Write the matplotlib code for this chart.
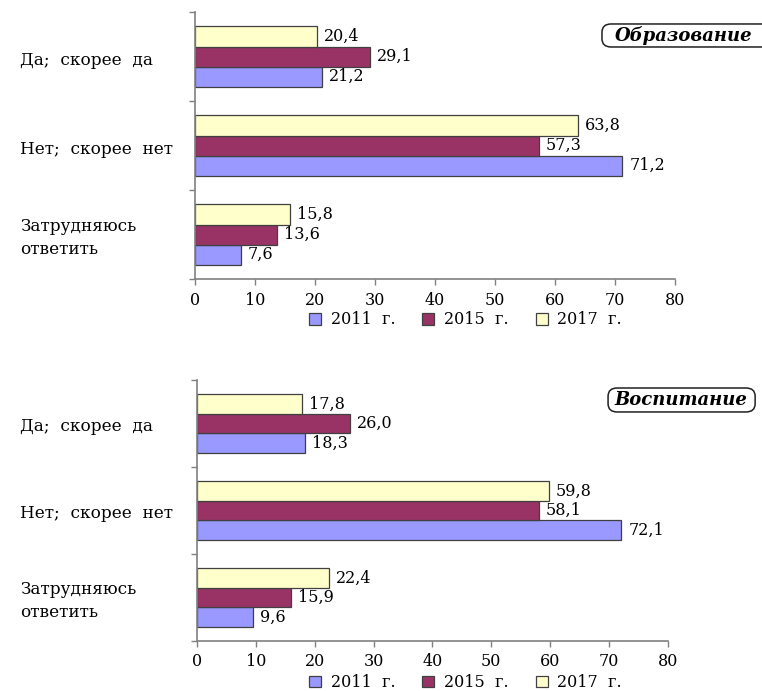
import matplotlib.pyplot as plt
import matplotlib.transforms as mtransforms
from matplotlib.patches import FancyBboxPatch
import numpy as np

# data
categories = ["Да;  скорее  да", "Нет;  скорее  нет", "Затрудняюсь\nответить"]
years = ["2011  г.", "2015  г.", "2017  г."]
colors = ["#9999ff", "#993366", "#ffffcc"]

edu_2011 = [21.2, 71.2, 7.6]
edu_2015 = [29.1, 57.3, 13.6]
edu_2017 = [20.4, 63.8, 15.8]

vos_2011 = [18.3, 72.1, 9.6]
vos_2015 = [26.0, 58.1, 15.9]
vos_2017 = [17.8, 59.8, 22.4]

# title, series, axes rect, legend y, title box (x0, y0, w, h), title text (x, y)
panels = [
    ("Образование", [edu_2011, edu_2015, edu_2017],
     [0.2559, 0.5962, 0.630, 0.3864], 0.537,
     (0.790, 0.932, 0.25, 0.0333), (0.8976, 0.9486)),
    ("Воспитание", [vos_2011, vos_2015, vos_2017],
     [0.2585, 0.0724, 0.618, 0.3777], 0.012,
     (0.798, 0.4038, 0.193, 0.0347), (0.8937, 0.4211)),
]

plt.rcParams["font.family"] = ["DejaVu Serif"]
fs = 11.5

fig = plt.figure(figsize=(7.62, 6.91), dpi=100)

bar_h = 0.225
offsets = [bar_h, 0.0, -bar_h]  # 2011 lowest, 2017 on top

for title, series, rect, leg_y, box, tpos in panels:
    ax = fig.add_axes(rect)
    centers = np.arange(len(categories)) + 0.5
    for vals, off, col, lab in zip(series, offsets, colors, years):
        bars = ax.barh(centers + off, vals, height=bar_h, color=col,
                       edgecolor="#404040", linewidth=0.9, label=lab)
        for b, v in zip(bars, vals):
            ax.annotate(f"{v:.1f}".replace(".", ","),
                        (b.get_width(), b.get_y() + b.get_height() / 2),
                        xytext=(5, 0), textcoords="offset points",
                        ha="left", va="center", fontsize=fs)
    ax.set_ylim(3, 0)
    ax.set_xlim(0, 80)
    ax.set_xticks(range(0, 81, 10))
    ax.set_yticks([0, 1, 2, 3])
    ax.set_yticklabels([])
    for s in ["top", "right"]:
        ax.spines[s].set_visible(False)
    for s in ["left", "bottom"]:
        ax.spines[s].set_color("#808080")
        ax.spines[s].set_linewidth(1.2)
    ax.tick_params(axis="both", color="#808080", length=4, width=1.0)
    ax.tick_params(axis="x", labelsize=fs, pad=5)

    # category labels, left aligned near the figure edge
    trans = mtransforms.blended_transform_factory(fig.transFigure, ax.transData)
    for c, cat in zip(centers, categories):
        ax.text(20 / 762, c + 0.04, cat, transform=trans, ha="left",
                va="center", fontsize=12.2, linespacing=1.5)

    handles, labels = ax.get_legend_handles_labels()
    fig.legend(handles, labels, loc="center", ncol=3, frameon=False,
               bbox_to_anchor=(0.611, leg_y),
               handlelength=0.75, handleheight=0.75, handletextpad=0.6,
               columnspacing=1.7, fontsize=fs)

    fig.patches.append(FancyBboxPatch(
        (box[0], box[1]), box[2], box[3],
        boxstyle="round,pad=0,rounding_size=0.012",
        transform=fig.transFigure, facecolor="white",
        edgecolor="#202020", linewidth=1.1, figure=fig))
    fig.text(tpos[0], tpos[1], title, ha="center", va="center",
             fontsize=13, fontweight="bold", fontstyle="italic")

fig.savefig("out.png", dpi=100)
